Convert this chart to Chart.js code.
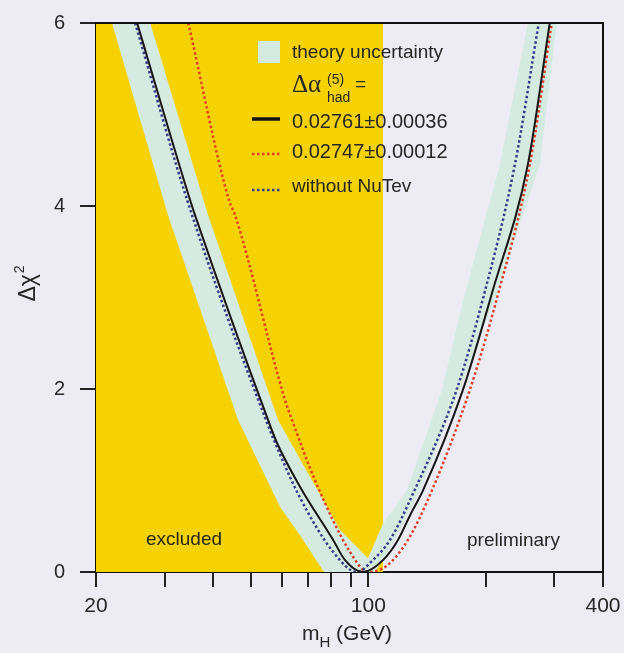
<!DOCTYPE html>
<html>
<head>
<meta charset="utf-8">
<script src="https://cdn.jsdelivr.net/npm/chart.js@4.4.1/dist/chart.umd.min.js"></script>
<style>
  body{margin:0;background:#edecf5;}
  canvas{display:block;}
</style>
</head>
<body>
<canvas id="myChart" width="624" height="653"></canvas>
<script>
// m_H (GeV) and delta chi^2
const blackMass=[25.5,34.9,35.9,55.3,58.3,66.8,81.2,87.1,96.9,109.0,119.1,128.6,138.0,174.8,208.6,256.5,292.0];
const blackChi2=[6.0,4.06,3.9,1.66,1.41,0.93,0.35,0.13,0,0.13,0.35,0.64,0.89,1.99,3.08,4.45,6.0];

const blueMass=[25.2,34.3,54.6,59.4,66.8,81.2,93.5,102.7,113.6,129.3,168.4,197.2,237.6,273.7];
const blueChi2=[6.0,4.06,1.66,1.28,0.81,0.22,0,0.13,0.35,0.83,1.99,3.0,4.45,6.0];

const redMass=[34.5,43.9,45.5,61.1,63.7,73.0,89.7,99.8,111.6,126.3,145.5,182.1,214.0,259.5,295.5];
const redChi2=[6.0,4.06,3.9,1.88,1.66,1.0,0.22,0,0.07,0.35,0.89,1.99,3.0,4.45,6.0];

// theory band outline: outer edge left->right, then inner edge right->left
const bandMass=[21.98,30.6,46.3,59.35,66.8,76.9,104.0,117.0,135.6,171.7,214.9,275.3,304.4,
                256.5,217.4,175.8,154.4,125.6,109.0,99.8,84.6,71.7,58.65,38.8,27.55];
const bandChi2=[6.0,3.9,1.66,0.71,0.40,0,0,0.35,0.89,1.99,3.08,4.45,6.0,
                6.0,4.45,3.0,1.99,0.89,0.53,0.15,0.46,1.0,1.66,3.9,6.0];

const excludedMass=[20,109];
const excludedChi2=[6,6];

const xTicks=[20,30,40,50,60,70,80,90,100,200,300,400];
const xLabels=[20,100,400];
const legendLabels=['theory uncertainty','0.02761\u00b10.00036','0.02747\u00b10.00012','without NuTev'];

const bandColor='#d5ebe1';
const yellow='#f6d300';
const textColor='#262626';
const font='Liberation Sans, Arial, sans-serif';
const dots=[2.5,2.5];

function pts(xs,ys){ return xs.map((x,i)=>({x:x,y:ys[i]})); }

const decor={
  id:'decor',
  afterDraw(chart){
    const {ctx,chartArea:a}=chart;
    ctx.save();
    // frame top and right
    ctx.strokeStyle='#111'; ctx.lineWidth=2;
    ctx.beginPath(); ctx.moveTo(a.left,a.top); ctx.lineTo(a.right,a.top); ctx.lineTo(a.right,a.bottom); ctx.stroke();

    // legend
    ctx.fillStyle=bandColor; ctx.fillRect(258,41,22,22);
    ctx.fillStyle=textColor; ctx.textBaseline='alphabetic'; ctx.textAlign='left';
    ctx.font='19px '+font; ctx.fillText(legendLabels[0],292,58);
    ctx.font='25px Liberation Serif, serif'; ctx.fillText('\u0394\u03b1',292,92);
    ctx.font='14px '+font; ctx.fillText('(5)',327,84); ctx.fillText('had',327,102);
    ctx.font='19px '+font; ctx.fillText('=',355,90);

    ctx.strokeStyle='#111'; ctx.lineWidth=3.5;
    ctx.beginPath(); ctx.moveTo(252,119); ctx.lineTo(280,119); ctx.stroke();
    ctx.lineWidth=2.5; ctx.setLineDash(dots);
    ctx.strokeStyle='#e0402a';
    ctx.beginPath(); ctx.moveTo(252,154); ctx.lineTo(280,154); ctx.stroke();
    ctx.strokeStyle='#383c86';
    ctx.beginPath(); ctx.moveTo(252,190); ctx.lineTo(280,190); ctx.stroke();
    ctx.setLineDash([]);
    ctx.font='20px '+font;
    ctx.fillText(legendLabels[1],292,128);
    ctx.fillText(legendLabels[2],292,158);
    ctx.font='19px '+font;
    ctx.fillText(legendLabels[3],292,192);

    // region notes
    ctx.fillText('excluded',146,545);
    ctx.fillText('preliminary',467,546);

    // x title
    ctx.font='21px '+font;
    const w1=ctx.measureText('m').width, w3=ctx.measureText(' (GeV)').width;
    ctx.font='15px '+font; const w2=ctx.measureText('H').width;
    let x0=347-(w1+w2+w3)/2;
    ctx.font='21px '+font; ctx.fillText('m',x0,640);
    ctx.font='15px '+font; ctx.fillText('H',x0+w1,647);
    ctx.font='21px '+font; ctx.fillText(' (GeV)',x0+w1+w2,640);

    // y title
    ctx.translate(35,284); ctx.rotate(-Math.PI/2);
    ctx.font='23px '+font; const d1=ctx.measureText('\u0394\u03c7').width;
    ctx.font='14px '+font; const d2=ctx.measureText('2').width;
    const s0=-(d1+d2)/2;
    ctx.font='23px '+font; ctx.fillText('\u0394\u03c7',s0,0);
    ctx.font='14px '+font; ctx.fillText('2',s0+d1+1,-11);
    ctx.restore();
  }
};

const ctx=document.getElementById('myChart');
new Chart(ctx,{
  type:'line',
  data:{datasets:[
    {data:pts(blackMass,blackChi2),borderColor:'#151515',borderWidth:2,pointRadius:0,fill:false,cubicInterpolationMode:'monotone',order:0},
    {data:pts(blueMass,blueChi2),borderColor:'#383c86',borderWidth:2.5,borderDash:dots,pointRadius:0,fill:false,cubicInterpolationMode:'monotone',order:1},
    {data:pts(redMass,redChi2),borderColor:'#e0402a',borderWidth:2.5,borderDash:dots,pointRadius:0,fill:false,cubicInterpolationMode:'monotone',order:2},
    {data:pts(bandMass,bandChi2),borderColor:'rgba(0,0,0,0)',borderWidth:0,backgroundColor:bandColor,pointRadius:0,fill:'shape',tension:0,order:5},
    {data:pts(excludedMass,excludedChi2),borderColor:'rgba(0,0,0,0)',borderWidth:0,backgroundColor:yellow,pointRadius:0,fill:'origin',order:6}
  ]},
  options:{
    responsive:false,
    animation:false,
    layout:{padding:{top:23,right:21,left:0,bottom:0}},
    plugins:{legend:{display:false},tooltip:{enabled:false}},
    scales:{
      x:{
        type:'logarithmic',min:20,max:400,
        afterBuildTicks(s){ s.ticks=xTicks.map(v=>({value:v})); },
        afterFit(s){ s.height=81; s.paddingLeft=0; s.paddingRight=0; },
        ticks:{autoSkip:false,maxRotation:0,padding:7,color:textColor,font:{family:font,size:21},
          callback:(v)=>xLabels.includes(v)?String(v):''},
        grid:{drawOnChartArea:false,tickLength:15,color:'#222',lineWidth:2},
        border:{color:'#111',width:2}
      },
      y:{
        min:0,max:6,
        afterFit(s){ s.width=96; s.paddingTop=0; s.paddingBottom=0; },
        ticks:{stepSize:2,padding:15,color:textColor,font:{family:font,size:20}},
        grid:{drawOnChartArea:false,tickLength:16,color:'#222',lineWidth:2},
        border:{color:'#111',width:2}
      }
    }
  },
  plugins:[decor]
});
</script>
</body>
</html>
